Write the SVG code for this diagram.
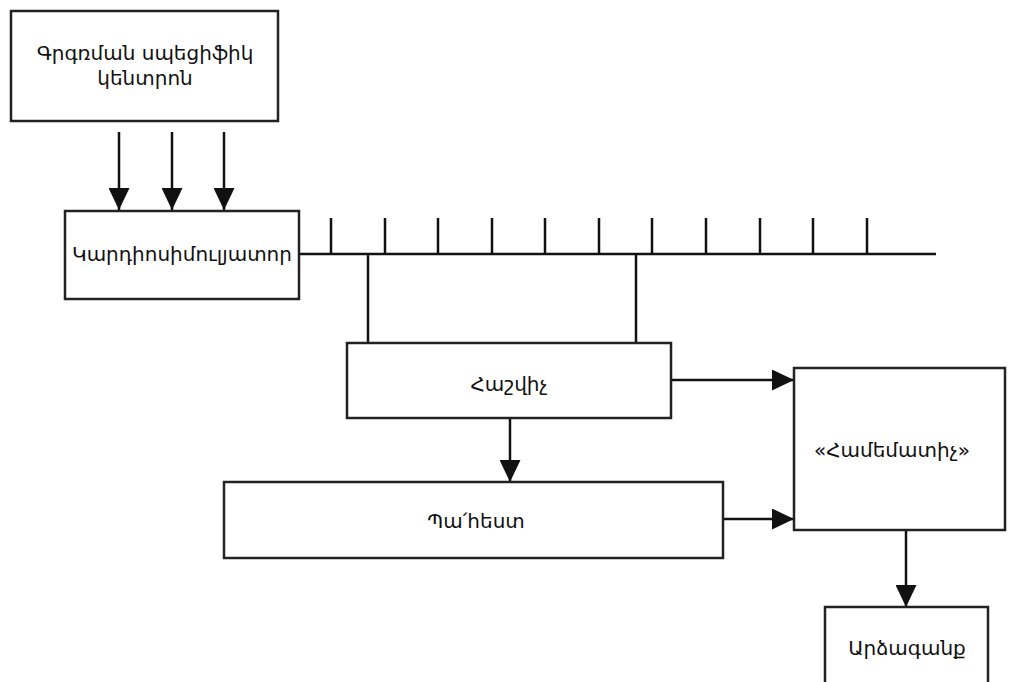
<svg xmlns="http://www.w3.org/2000/svg" width="1020" height="682" viewBox="0 0 1020 682">
<style>
.box{fill:#fff;stroke:#222;stroke-width:2.5}
.ln{fill:none;stroke:#111;stroke-width:2.5}
.t{font-family:"DejaVu Sans",sans-serif;font-size:20px;fill:#111;text-anchor:middle}
</style>
<defs>
<marker id="ah" viewBox="0 0 22 21" refX="22" refY="10.5" markerWidth="22" markerHeight="21" markerUnits="userSpaceOnUse" orient="auto">
<path d="M0,0 L22,10.5 L0,21 Z" fill="#111"/>
</marker>
</defs>
<rect width="1020" height="682" fill="#fff"/>
<g id="connectors">
<line class="ln" x1="119" y1="132" x2="119" y2="210" marker-end="url(#ah)"/>
<line class="ln" x1="172" y1="132" x2="172" y2="210" marker-end="url(#ah)"/>
<line class="ln" x1="224" y1="132" x2="224" y2="210" marker-end="url(#ah)"/>
<line class="ln" x1="299" y1="254" x2="936" y2="254"/>
<path class="ln" d="M331,218V254M385,218V254M438,218V254M492,218V254M545,218V254M599,218V254M652,218V254M706,218V254M760,218V254M813,218V254M867,218V254"/>
<line class="ln" x1="368" y1="254" x2="368" y2="343"/>
<line class="ln" x1="636" y1="254" x2="636" y2="343"/>
<line class="ln" x1="671" y1="380" x2="794" y2="380" marker-end="url(#ah)"/>
<line class="ln" x1="510" y1="418" x2="510" y2="482" marker-end="url(#ah)"/>
<line class="ln" x1="723" y1="519" x2="794" y2="519" marker-end="url(#ah)"/>
<line class="ln" x1="906" y1="530" x2="906" y2="607" marker-end="url(#ah)"/>
</g>
<g id="n1">
<rect class="box" x="11" y="11" width="267" height="110"/>
<text class="t" x="145" y="60">Գրգռման սպեցիֆիկ</text>
<text class="t" x="145" y="85">կենտրոն</text>
</g>
<g id="n2">
<rect class="box" x="65" y="211" width="234" height="88"/>
<text class="t" x="182" y="261">Կարդիոսիմուլյատոր</text>
</g>
<g id="n3">
<rect class="box" x="347" y="343" width="324" height="75"/>
<text class="t" x="509" y="391">Հաշվիչ</text>
</g>
<g id="n4">
<rect class="box" x="224" y="482" width="499" height="76"/>
<text class="t" x="476" y="528">Պա՛հեստ</text>
</g>
<g id="n5">
<rect class="box" x="794" y="368" width="211" height="162"/>
<text class="t" x="892" y="457">«Համեմատիչ»</text>
</g>
<g id="n6">
<rect class="box" x="825" y="607" width="163" height="90"/>
<text class="t" x="907" y="655">Արձագանք</text>
</g>
</svg>
